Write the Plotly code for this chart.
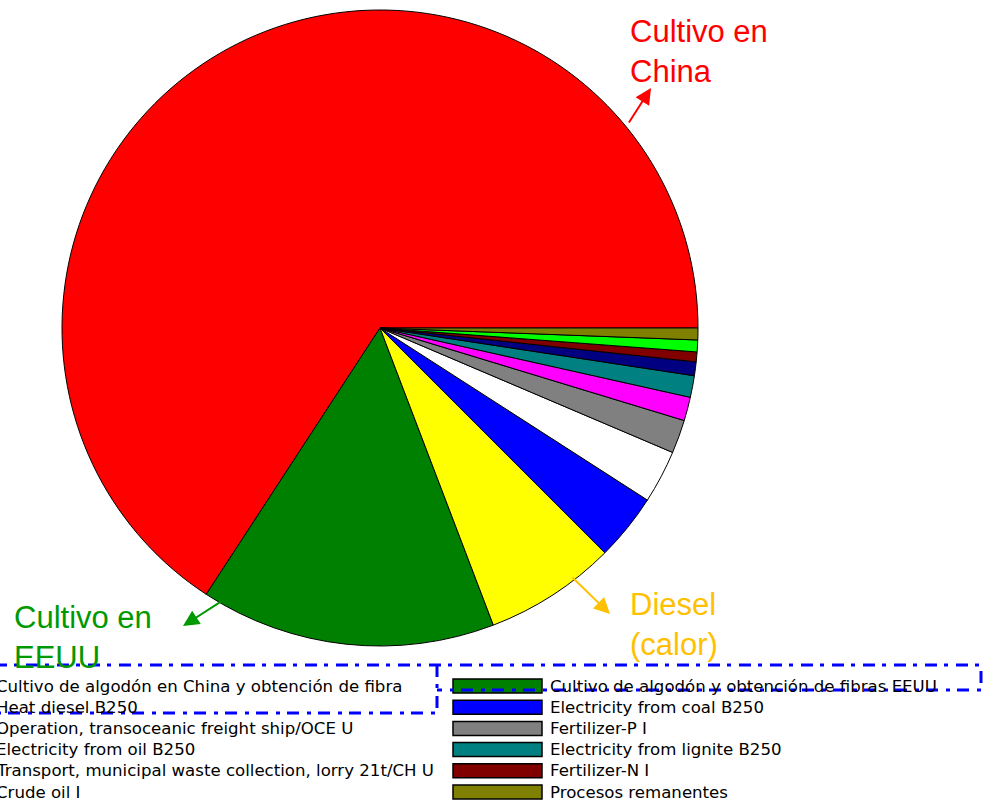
import plotly.graph_objects as go

W, H = 985, 810

labels = [
    "Cultivo de algodón en China y obtención de fibra",
    "Cultivo de algodón y obtención de fibras EEUU",
    "Heat diesel B250",
    "Electricity from coal B250",
    "Operation, transoceanic freight ship/OCE U",
    "Fertilizer-P I",
    "Electricity from oil B250",
    "Electricity from lignite B250",
    "Transport, municipal waste collection, lorry 21t/CH U",
    "Fertilizer-N I",
    "Crude oil I",
    "Procesos remanentes",
]
values = [65.8, 15.0, 6.7, 3.4, 2.7, 1.7, 1.2, 1.1, 0.7, 0.5, 0.6, 0.6]
colors = ["#FF0000", "#008000", "#FFFF00", "#0000FF", "#FFFFFF", "#808080",
          "#FF00FF", "#008080", "#000080", "#800000", "#00FF00", "#808000"]

callouts = ["Cultivo en<br>China", "Cultivo en<br>EEUU", "Diesel<br>(calor)"]
callout_colors = ["#FF0000", "#009900", "#FFC000"]


def px(x):
    return x / W


def py(y):
    return 1 - y / H


# pie geometry (pixels)
cx, cy, r = 380, 328, 318

# first slice begins at 3 o'clock and runs counterclockwise
rot = 90 - 360 * values[0] / sum(values)

fig = go.Figure()
fig.add_trace(go.Pie(
    labels=labels, values=values, sort=False,
    direction="counterclockwise", rotation=rot,
    marker=dict(colors=colors, line=dict(color="#000000", width=1)),
    textinfo="none", showlegend=False,
    domain=dict(x=[px(cx - r), px(cx + r)], y=[py(cy + r), py(cy - r)]),
))

shapes = []
annotations = []

# manual legend, two columns, row-wise order
text_x = [-6, 548]
row_y0, row_step = 686, 21.2
for i, (lab, col) in enumerate(zip(labels, colors)):
    c, rrow = i % 2, i // 2
    yc = row_y0 + rrow * row_step
    tx = text_x[c]
    shapes.append(dict(type="rect", xref="paper", yref="paper",
                       x0=px(tx - 95), x1=px(tx - 6), y0=py(yc + 7), y1=py(yc - 7),
                       fillcolor=col, line=dict(color="#000000", width=1.5)))
    annotations.append(dict(x=px(tx), y=py(yc), xref="paper", yref="paper",
                            text=lab, showarrow=False, xanchor="left", yanchor="middle",
                            font=dict(family="DejaVu Sans", size=16.6, color="#000000")))

# dashed highlight outline
path = (f"M {px(-5)},{py(665)} L {px(981)},{py(665)} L {px(981)},{py(690)} "
        f"L {px(437)},{py(690)} M {px(437)},{py(665)} L {px(437)},{py(713)} "
        f"L {px(-5)},{py(713)}")
shapes.append(dict(type="path", xref="paper", yref="paper", path=path,
                   line=dict(color="#0000FF", width=3, dash="12px,7px,4px,8px")))

# callout texts
text_pos = [(628, 12), (12, 598), (628, 585)]
for t, c, (x, y) in zip(callouts, callout_colors, text_pos):
    annotations.append(dict(x=px(x), y=py(y), xref="paper", yref="paper", text=t,
                            showarrow=False, xanchor="left", yanchor="top", align="left",
                            font=dict(family="Liberation Sans, Arial", size=31, color=c)))

# arrows: (tail, head) in pixels
arrows = [((628, 124), (651, 88)), ((222, 601), (183, 626)), ((571, 576), (610, 614))]
for (t, h), c in zip(arrows, callout_colors):
    annotations.append(dict(x=px(h[0]), y=py(h[1]), ax=t[0] - h[0], ay=t[1] - h[1],
                            xref="paper", yref="paper", axref="pixel", ayref="pixel",
                            text="", showarrow=True, arrowhead=2, arrowsize=1.6,
                            arrowwidth=2, arrowcolor=c))

fig.update_layout(
    width=W, height=H, margin=dict(l=0, r=0, t=0, b=0),
    paper_bgcolor="#FFFFFF", plot_bgcolor="#FFFFFF",
    shapes=shapes, annotations=annotations, showlegend=False,
)

fig.write_html("out.html")
